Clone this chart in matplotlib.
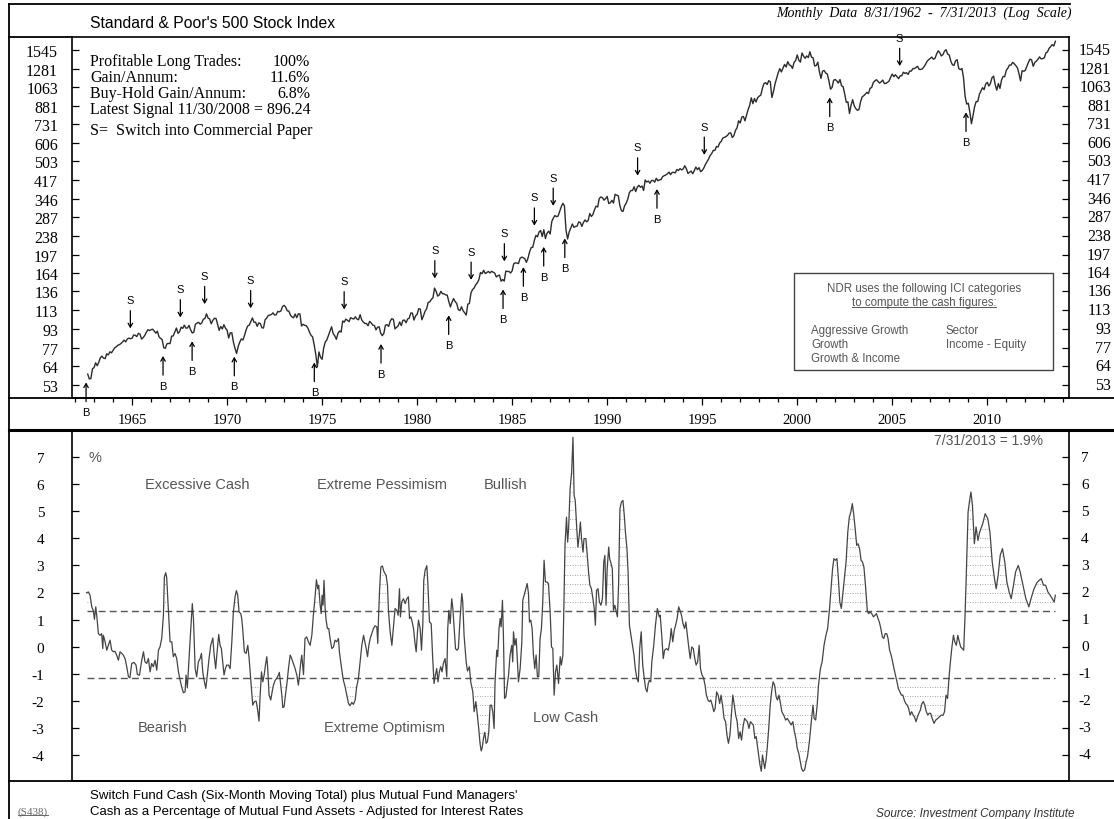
import numpy as np
import matplotlib
matplotlib.use("Agg")
import matplotlib.pyplot as plt
from matplotlib.lines import Line2D
from matplotlib.path import Path
from matplotlib.ticker import FixedLocator, MultipleLocator, NullLocator
from matplotlib.transforms import blended_transform_factory

# S&P 500 month-end closes, 8/1962 - 7/2013
sp500_close = [
    59.1, 56.3, 56.5, 62.3, 63.1,
    66.2, 64.3, 66.6, 69.8, 70.8, 69.4, 69.1, 72.5, 71.7, 74.0, 73.2, 75.0,
    77.0, 77.8, 79.0, 79.5, 80.4, 81.7, 83.2, 81.8, 84.2, 84.9, 84.4, 84.8,
    87.6, 87.4, 86.2, 89.1, 88.4, 84.1, 85.3, 87.2, 90.0, 92.4, 91.6, 92.4,
    92.9, 91.2, 89.2, 91.1, 86.1, 84.7, 83.6, 77.1, 76.6, 80.2, 80.5, 80.3,
    86.6, 86.8, 90.2, 94.0, 89.1, 90.6, 94.8, 93.6, 96.7, 93.9, 94.0, 96.5,
    92.2, 89.4, 90.2, 97.6, 98.7, 99.6, 97.7, 98.9, 102.7, 103.4, 108.4, 103.9,
    103.0, 98.1, 101.5, 103.7, 103.5, 97.7, 91.8, 95.5, 93.1, 97.2, 93.8, 92.1,
    85.0, 89.5, 89.6, 81.5, 76.6, 72.7, 78.1, 81.5, 84.2, 83.3, 87.2, 92.2,
    95.9, 96.8, 100.3, 104.0, 99.6, 99.7, 95.6, 99.0, 98.3, 94.2, 94.0, 102.1,
    103.9, 106.6, 107.2, 107.7, 109.5, 107.1, 107.4, 111.1, 110.6, 111.6, 116.7, 118.1,
    116.0, 111.7, 111.5, 107.0, 105.0, 104.3, 108.2, 104.3, 108.4, 108.3, 96.0, 97.6,
    96.6, 96.2, 94.0, 90.3, 87.3, 86.0, 79.3, 72.2, 63.5, 73.9, 70.0, 68.6,
    77.0, 81.6, 83.4, 87.3, 91.2, 95.2, 88.8, 86.9, 83.9, 89.0, 91.2, 90.2,
    100.9, 99.7, 102.8, 101.6, 100.2, 104.3, 103.4, 102.9, 105.2, 102.9, 102.1, 107.5,
    102.0, 99.8, 98.4, 98.4, 96.1, 100.5, 98.9, 96.8, 96.5, 92.3, 94.8, 95.1,
    89.3, 87.0, 89.2, 96.8, 97.2, 95.5, 100.7, 103.3, 102.5, 93.2, 94.7, 96.1,
    99.9, 96.3, 101.6, 101.8, 99.1, 102.9, 103.8, 109.3, 109.3, 101.8, 106.2, 107.9,
    114.2, 113.7, 102.1, 106.3, 111.2, 114.2, 121.7, 122.4, 125.5, 127.5, 140.5, 135.8,
    129.6, 131.3, 136.0, 132.8, 132.6, 131.2, 130.9, 122.8, 116.2, 121.9, 126.4, 122.6,
    120.4, 113.1, 112.0, 116.4, 111.9, 109.6, 107.1, 119.5, 120.4, 133.7, 138.5, 140.6,
    145.3, 148.1, 153.0, 164.4, 162.4, 168.1, 162.6, 164.4, 166.1, 163.6, 166.4, 164.9,
    163.4, 157.1, 159.2, 160.1, 150.6, 153.2, 150.7, 166.7, 166.1, 166.1, 163.6, 167.2,
    179.6, 181.2, 180.7, 179.8, 189.6, 191.9, 190.9, 188.6, 182.1, 189.8, 202.2, 211.3,
    211.8, 226.9, 238.9, 235.5, 247.4, 250.8, 236.1, 252.9, 231.3, 244.0, 249.2, 242.2,
    274.1, 284.2, 291.7, 288.4, 290.1, 304.0, 318.7, 329.8, 321.8, 251.8, 230.3, 247.1,
    257.1, 267.8, 258.9, 261.3, 262.2, 273.5, 272.0, 261.5, 271.9, 279.0, 273.7, 277.7,
    297.5, 288.9, 294.9, 309.6, 320.5, 318.0, 346.1, 351.5, 349.2, 340.4, 346.0, 353.4,
    329.1, 331.9, 339.9, 330.8, 361.2, 358.0, 356.2, 322.6, 306.1, 304.0, 322.2, 330.2,
    343.9, 367.1, 375.2, 375.4, 389.8, 371.2, 387.8, 395.4, 387.9, 392.5, 375.2, 417.1,
    408.8, 412.7, 403.7, 415.0, 415.4, 408.1, 424.2, 414.0, 417.8, 418.7, 431.4, 435.7,
    438.8, 443.4, 451.7, 440.2, 450.2, 450.5, 448.1, 463.6, 458.9, 467.8, 461.8, 466.5,
    481.6, 467.1, 445.8, 450.9, 456.5, 444.3, 458.3, 475.5, 462.7, 472.4, 453.7, 459.3,
    470.4, 487.4, 500.7, 514.7, 533.4, 544.8, 562.1, 561.9, 584.4, 581.5, 605.4, 615.9,
    636.0, 640.4, 645.5, 654.2, 669.1, 670.6, 640.0, 652.0, 687.3, 705.3, 757.0, 740.7,
    786.2, 790.8, 757.1, 801.3, 848.3, 885.1, 954.3, 899.5, 947.3, 914.6, 955.4, 970.4,
    980.3, 1049.3, 1101.8, 1111.8, 1090.8, 1133.8, 1120.7, 957.3, 1017.0, 1098.7, 1163.6, 1229.2,
    1279.6, 1238.3, 1286.4, 1335.2, 1301.8, 1372.7, 1328.7, 1320.4, 1282.7, 1362.9, 1388.9, 1469.3,
    1394.5, 1366.4, 1498.6, 1452.4, 1420.6, 1454.6, 1430.8, 1517.7, 1436.5, 1429.4, 1315.0, 1320.3,
    1366.0, 1239.9, 1160.3, 1249.5, 1255.8, 1224.4, 1211.2, 1133.6, 1040.9, 1059.8, 1139.5, 1148.1,
    1130.2, 1106.7, 1147.4, 1076.9, 1067.1, 989.8, 911.6, 916.1, 815.3, 885.8, 936.3, 879.8,
    855.7, 841.2, 848.2, 916.9, 963.6, 974.5, 990.3, 1008.0, 996.0, 1050.7, 1058.2, 1111.9,
    1131.1, 1144.9, 1126.2, 1107.3, 1120.7, 1140.8, 1101.7, 1104.2, 1114.6, 1130.2, 1173.8, 1211.9,
    1181.3, 1203.6, 1180.6, 1156.9, 1191.5, 1191.3, 1234.2, 1220.3, 1228.8, 1207.0, 1249.5, 1248.3,
    1280.1, 1280.7, 1294.8, 1310.6, 1270.1, 1270.2, 1276.7, 1303.8, 1335.9, 1377.9, 1400.6, 1418.3,
    1438.2, 1406.8, 1420.9, 1482.4, 1530.6, 1503.4, 1455.3, 1474.0, 1526.8, 1549.4, 1481.1, 1468.4,
    1378.6, 1330.6, 1322.7, 1385.6, 1400.4, 1280.0, 1267.4, 1282.8, 1166.4, 968.8, 896.2, 903.3,
    825.9, 735.1, 797.9, 872.8, 919.1, 919.3, 987.5, 1020.6, 1057.1, 1036.2, 1095.6, 1115.1,
    1073.9, 1104.5, 1169.4, 1186.7, 1089.4, 1030.7, 1101.6, 1049.3, 1141.2, 1183.3, 1180.6, 1257.6,
    1286.1, 1327.2, 1325.8, 1363.6, 1345.2, 1320.6, 1292.3, 1218.9, 1131.4, 1253.3, 1247.0, 1257.6,
    1312.4, 1365.7, 1408.5, 1397.9, 1310.3, 1362.2, 1379.3, 1406.6, 1440.7, 1412.2, 1416.2, 1426.2,
    1498.1, 1514.7, 1569.2, 1597.6, 1630.7, 1606.3, 1685.7,
]
sp_years = 1962 + 8 / 12 + np.arange(len(sp500_close)) / 12

# cash indicator (%)
cash_years = [
    1962.61, 1962.70, 1962.79, 1962.88, 1962.96, 1963.02, 1963.09, 1963.14, 1963.23, 1963.32,
    1963.40, 1963.46, 1963.49, 1963.58, 1963.67, 1963.75, 1963.84, 1963.93, 1964.02, 1964.10,
    1964.19, 1964.28, 1964.37, 1964.46, 1964.54, 1964.63, 1964.72, 1964.81, 1964.89, 1964.98,
    1965.10, 1965.21, 1965.28, 1965.39, 1965.51, 1965.60, 1965.68, 1965.77, 1965.86, 1965.95,
    1966.03, 1966.12, 1966.21, 1966.30, 1966.39, 1966.47, 1966.56, 1966.65, 1966.70, 1966.77,
    1966.82, 1966.88, 1966.93, 1967.00, 1967.09, 1967.17, 1967.26, 1967.35, 1967.44, 1967.53,
    1967.61, 1967.70, 1967.79, 1967.84, 1967.91, 1967.96, 1968.05, 1968.14, 1968.17, 1968.23,
    1968.32, 1968.40, 1968.49, 1968.58, 1968.65, 1968.72, 1968.79, 1968.88, 1968.96, 1969.05,
    1969.14, 1969.25, 1969.32, 1969.40, 1969.46, 1969.56, 1969.63, 1969.70, 1969.77, 1969.84,
    1969.91, 1969.98, 1970.07, 1970.16, 1970.25, 1970.33, 1970.42, 1970.49, 1970.56, 1970.63,
    1970.72, 1970.77, 1970.82, 1970.91, 1971.00, 1971.09, 1971.16, 1971.24, 1971.30, 1971.35,
    1971.44, 1971.53, 1971.61, 1971.68, 1971.74, 1971.81, 1971.88, 1971.95, 1972.02, 1972.09,
    1972.14, 1972.21, 1972.30, 1972.37, 1972.44, 1972.53, 1972.61, 1972.70, 1972.75, 1972.82,
    1972.88, 1972.93, 1973.00, 1973.07, 1973.14, 1973.23, 1973.32, 1973.40, 1973.49, 1973.58,
    1973.67, 1973.75, 1973.81, 1973.88, 1973.93, 1974.02, 1974.10, 1974.19, 1974.28, 1974.37,
    1974.46, 1974.54, 1974.63, 1974.70, 1974.77, 1974.82, 1974.89, 1974.95, 1975.00, 1975.05,
    1975.10, 1975.16, 1975.21, 1975.28, 1975.35, 1975.42, 1975.51, 1975.60, 1975.68, 1975.77,
    1975.86, 1975.91, 1975.98, 1976.05, 1976.12, 1976.21, 1976.30, 1976.39, 1976.47, 1976.56,
    1976.65, 1976.74, 1976.82, 1976.91, 1977.00, 1977.09, 1977.18, 1977.25, 1977.32, 1977.39,
    1977.46, 1977.53, 1977.61, 1977.70, 1977.79, 1977.88, 1977.93, 1977.96, 1978.02, 1978.09,
    1978.17, 1978.26, 1978.37, 1978.44, 1978.49, 1978.58, 1978.67, 1978.75, 1978.84, 1978.93,
    1979.00, 1979.07, 1979.12, 1979.19, 1979.28, 1979.37, 1979.46, 1979.54, 1979.60, 1979.67,
    1979.74, 1979.81, 1979.88, 1979.95, 1980.02, 1980.07, 1980.16, 1980.23, 1980.30, 1980.35,
    1980.42, 1980.51, 1980.56, 1980.65, 1980.74, 1980.82, 1980.89, 1980.96, 1981.03, 1981.10,
    1981.17, 1981.24, 1981.31, 1981.38, 1981.47, 1981.56, 1981.61, 1981.67, 1981.74, 1981.82,
    1981.88, 1981.95, 1982.02, 1982.09, 1982.17, 1982.26, 1982.35, 1982.40, 1982.47, 1982.58,
    1982.65, 1982.75, 1982.82, 1982.93, 1983.00, 1983.09, 1983.17, 1983.24, 1983.31, 1983.37,
    1983.42, 1983.49, 1983.56, 1983.63, 1983.70, 1983.77, 1983.84, 1983.91, 1983.98, 1984.05,
    1984.10, 1984.19, 1984.24, 1984.31, 1984.37, 1984.42, 1984.49, 1984.54, 1984.60, 1984.67,
    1984.72, 1984.81, 1984.89, 1984.98, 1985.03, 1985.07, 1985.14, 1985.21, 1985.26, 1985.33,
    1985.42, 1985.51, 1985.56, 1985.63, 1985.72, 1985.79, 1985.86, 1985.91, 1985.98, 1986.05,
    1986.12, 1986.19, 1986.26, 1986.33, 1986.40, 1986.47, 1986.54, 1986.61, 1986.68, 1986.75,
    1986.82, 1986.91, 1987.00, 1987.07, 1987.14, 1987.21, 1987.28, 1987.35, 1987.44, 1987.53,
    1987.59, 1987.67, 1987.72, 1987.78, 1987.86, 1987.92, 1987.97, 1988.05, 1988.13, 1988.20,
    1988.26, 1988.32, 1988.40, 1988.46, 1988.53, 1988.59, 1988.65, 1988.73, 1988.78, 1988.88,
    1988.94, 1989.02, 1989.09, 1989.17, 1989.25, 1989.32, 1989.38, 1989.44, 1989.52, 1989.59,
    1989.67, 1989.75, 1989.82, 1989.88, 1989.94, 1990.00, 1990.08, 1990.13, 1990.23, 1990.27,
    1990.33, 1990.40, 1990.48, 1990.54, 1990.60, 1990.67, 1990.75, 1990.83, 1990.90, 1990.96,
    1991.04, 1991.10, 1991.17, 1991.25, 1991.33, 1991.41, 1991.48, 1991.56, 1991.64, 1991.71,
    1991.79, 1991.87, 1991.95, 1992.02, 1992.10, 1992.16, 1992.22, 1992.29, 1992.35, 1992.45,
    1992.54, 1992.64, 1992.74, 1992.79, 1992.87, 1992.95, 1993.02, 1993.12, 1993.22, 1993.31,
    1993.37, 1993.45, 1993.53, 1993.60, 1993.68, 1993.76, 1993.83, 1993.91, 1993.99, 1994.07,
    1994.14, 1994.22, 1994.30, 1994.37, 1994.45, 1994.53, 1994.61, 1994.68, 1994.76, 1994.84,
    1994.91, 1994.99, 1995.07, 1995.15, 1995.22, 1995.30, 1995.38, 1995.45, 1995.53, 1995.61,
    1995.68, 1995.76, 1995.84, 1995.92, 1995.99, 1996.07, 1996.15, 1996.23, 1996.30, 1996.38,
    1996.46, 1996.53, 1996.61, 1996.69, 1996.76, 1996.84, 1996.92, 1996.99, 1997.07, 1997.15,
    1997.23, 1997.30, 1997.38, 1997.46, 1997.54, 1997.61, 1997.69, 1997.77, 1997.84, 1997.92,
    1997.98, 1998.04, 1998.11, 1998.17, 1998.23, 1998.29, 1998.37, 1998.42, 1998.50, 1998.58,
    1998.65, 1998.73, 1998.81, 1998.89, 1998.96, 1999.04, 1999.12, 1999.19, 1999.29, 1999.39,
    1999.48, 1999.58, 1999.68, 1999.77, 1999.85, 1999.93, 2000.00, 2000.08, 2000.16, 2000.23,
    2000.31, 2000.39, 2000.47, 2000.54, 2000.64, 2000.74, 2000.83, 2000.89, 2000.97, 2001.05,
    2001.12, 2001.22, 2001.31, 2001.41, 2001.51, 2001.60, 2001.70, 2001.78, 2001.86, 2001.93,
    2002.01, 2002.09, 2002.16, 2002.24, 2002.32, 2002.39, 2002.47, 2002.57, 2002.66, 2002.74,
    2002.82, 2002.90, 2002.97, 2003.05, 2003.13, 2003.20, 2003.28, 2003.36, 2003.43, 2003.51,
    2003.59, 2003.69, 2003.76, 2003.84, 2003.92, 2004.01, 2004.09, 2004.17, 2004.25, 2004.32,
    2004.40, 2004.48, 2004.55, 2004.63, 2004.71, 2004.78, 2004.86, 2004.94, 2005.02, 2005.09,
    2005.17, 2005.25, 2005.32, 2005.40, 2005.48, 2005.56, 2005.63, 2005.71, 2005.79, 2005.86,
    2005.94, 2006.02, 2006.10, 2006.17, 2006.25, 2006.33, 2006.40, 2006.48, 2006.56, 2006.64,
    2006.71, 2006.79, 2006.87, 2006.94, 2007.02, 2007.10, 2007.20, 2007.29, 2007.39, 2007.48,
    2007.58, 2007.68, 2007.75, 2007.83, 2007.91, 2007.99, 2008.06, 2008.14, 2008.22, 2008.29,
    2008.37, 2008.45, 2008.53, 2008.60, 2008.68, 2008.76, 2008.83, 2008.89, 2008.99, 2009.07,
    2009.14, 2009.22, 2009.32, 2009.41, 2009.51, 2009.60, 2009.76, 2009.89, 2010.03, 2010.14,
    2010.26, 2010.38, 2010.47, 2010.57, 2010.68, 2010.80, 2010.92, 2011.03, 2011.15, 2011.26,
    2011.38, 2011.49, 2011.63, 2011.73, 2011.88, 2012.03, 2012.19, 2012.30, 2012.46, 2012.61,
    2012.73, 2012.84, 2012.96, 2013.07, 2013.19, 2013.31, 2013.42, 2013.52, 2013.58,
]
cash_pct = [
    1.99, 2.02, 1.90, 1.47, 1.34, 1.01, 1.47, 1.16, 0.48, 0.42,
    0.48, -0.07, 0.42, 0.18, -0.13, 0.05, 0.24, -0.13, -0.19, -0.17,
    -0.31, -0.50, -0.19, -0.25, -0.31, -0.44, -0.74, -1.11, -1.15, -0.62,
    -0.58, -0.68, -1.03, -1.05, -0.50, -0.19, -0.56, -0.62, -0.44, -0.93,
    -0.62, -0.74, -0.50, -0.87, -0.13, -0.01, 0.30, 1.16, 2.57, 2.73,
    2.57, 1.77, 1.16, 0.18, 0.18, -0.37, -0.25, -0.44, -0.93, -1.24,
    -1.48, -1.70, -1.67, -1.05, -1.52, -0.93, 0.18, 1.28, 1.59, 1.04,
    -0.81, -1.11, -0.56, -0.44, -0.25, -0.93, -1.24, -1.54, -1.05, -0.44,
    0.05, 0.32, -0.31, -0.81, -0.31, 0.45, 0.05, -0.07, -0.56, -1.05,
    -0.81, -0.68, -0.68, -0.81, 0.18, 1.28, 1.84, 2.07, 1.90, 1.28,
    1.22, 1.04, 0.67, -0.19, -0.25, 0.05, -0.44, -1.17, -1.67, -2.16,
    -2.03, -2.01, -2.34, -2.75, -1.79, -0.93, -1.30, -1.05, -0.68, -0.37,
    -0.81, -1.79, -1.97, -1.67, -1.42, -1.24, -1.17, -1.05, -0.95, -1.42,
    -1.79, -2.25, -2.22, -1.79, -1.42, -0.81, -0.31, -0.44, -0.62, -0.81,
    -1.05, -1.42, -1.05, -0.56, -0.31, -1.03, 0.30, 0.36, 0.18, 0.05,
    0.42, 1.16, 1.84, 2.47, 2.14, 2.27, 1.59, 1.22, 1.90, 1.53,
    2.45, 1.41, 0.98, 0.67, 0.67, 0.30, -0.07, -0.01, 0.24, 0.18,
    0.30, -0.19, -0.56, -0.93, -1.24, -1.48, -1.79, -2.10, -2.18, -2.06,
    -2.13, -1.97, -1.48, -1.17, -0.56, 0.05, 0.42, 0.18, -0.07, -0.37,
    0.05, 0.30, 0.48, 0.67, 0.77, 0.73, 0.12, 0.91, 2.02, 2.94,
    2.98, 2.76, 2.63, 2.27, 1.34, 0.55, 0.05, 0.67, 1.41, 1.34,
    1.16, 2.14, 1.10, 1.65, 1.77, 1.59, 1.77, 1.84, 1.04, 1.10,
    0.91, 0.67, 0.18, -0.19, 0.55, 0.98, 0.67, -0.13, 0.85, 2.45,
    2.82, 2.99, 2.39, 0.91, 0.85, -0.44, -1.36, -1.05, -0.81, -1.30,
    -0.93, -0.74, -0.93, -0.62, -0.44, -1.11, 0.67, 1.34, 0.85, 1.77,
    1.41, 0.67, -0.07, -0.13, -0.07, 1.04, 1.96, 1.65, 0.42, -0.56,
    -0.90, -0.74, -1.30, -1.67, -2.40, -2.03, -2.53, -3.02, -3.57, -3.85,
    -3.75, -3.39, -3.16, -3.57, -3.51, -3.14, -2.16, -2.16, -2.40, -3.02,
    -1.30, -0.13, -0.37, 0.67, 1.04, 0.73, 1.71, 0.42, -1.91, -1.85,
    -1.54, -1.05, -0.31, 0.05, -0.56, 0.55, 0.05, 0.30, -0.31, -1.30,
    -0.81, 0.18, 1.71, 1.90, 2.14, 2.33, 1.96, 0.91, 0.98, 0.67,
    -0.31, -0.81, -0.31, -1.11, -1.11, 0.30, 0.67, 1.65, 3.19, 2.39,
    2.39, 2.33, 1.28, -0.01, -0.07, -1.79, -0.93, -0.68, -1.36, -0.37,
    -0.68, -0.31, 1.41, 3.74, 4.78, 3.86, 4.35, 5.83, 6.44, 7.73,
    5.58, 5.40, 4.35, 3.68, 4.11, 4.60, 3.99, 3.49, 3.99, 3.99,
    3.49, 2.76, 2.27, 2.14, 1.77, 1.41, 0.79, 2.08, 2.14, 1.65,
    1.53, 1.77, 3.13, 3.37, 1.53, 2.88, 3.68, 3.25, 3.00, 2.88,
    1.34, 1.53, 1.28, 1.10, 2.27, 5.09, 5.34, 5.40, 4.85, 4.23,
    3.62, 2.76, 0.79, 0.42, 0.05, -0.31, -0.81, -1.17, -1.30, -0.07,
    0.55, -0.68, -1.17, -1.54, -1.67, -1.36, -1.24, -1.30, -0.56, 0.05,
    0.79, 1.41, 1.10, 1.16, 0.42, -0.44, -0.13, -0.07, -0.13, 0.24,
    0.67, 0.18, 0.61, 0.79, 1.04, 1.47, 1.34, 1.16, 0.85, 0.67,
    0.91, 0.42, -0.07, -0.44, -0.01, -0.07, -0.44, -0.68, -0.56, 0.05,
    -0.81, -1.05, -1.15, -1.42, -1.79, -1.97, -2.03, -1.97, -2.16, -2.40,
    -2.28, -1.67, -1.79, -2.10, -1.79, -2.16, -2.65, -2.77, -3.26, -3.57,
    -3.26, -2.59, -1.79, -2.16, -2.53, -2.77, -3.39, -3.14, -3.45, -2.96,
    -2.65, -2.71, -2.77, -3.02, -2.77, -2.83, -2.89, -3.39, -3.32, -3.75,
    -4.06, -4.37, -4.60, -4.00, -4.25, -4.50, -4.12, -3.75, -3.02, -2.16,
    -1.67, -1.30, -1.42, -1.85, -1.97, -1.79, -2.10, -2.40, -2.53, -2.71,
    -2.65, -2.77, -2.89, -2.77, -3.14, -3.39, -3.75, -3.94, -4.25, -4.50,
    -4.60, -4.55, -4.25, -4.06, -3.51, -2.77, -2.16, -2.65, -2.71, -2.16,
    -1.42, -0.81, -0.56, 0.05, 0.42, 0.67, 1.41, 2.14, 2.88, 3.25,
    3.19, 3.25, 2.57, 1.65, 1.41, 1.90, 2.45, 3.13, 4.23, 4.78,
    4.97, 5.28, 4.91, 4.35, 3.74, 3.80, 3.62, 3.19, 3.13, 2.94,
    2.27, 1.31, 1.22, 1.28, 1.22, 1.10, 1.16, 1.22, 1.04, 0.91,
    0.67, 0.36, 0.30, 0.48, 0.48, 0.30, -0.13, -0.31, -0.56, -0.81,
    -1.05, -1.30, -1.54, -1.67, -1.79, -1.79, -1.97, -2.10, -2.16, -2.28,
    -2.53, -2.40, -2.53, -2.59, -2.77, -2.59, -2.46, -2.34, -2.10, -2.03,
    -2.16, -2.40, -2.53, -2.46, -2.46, -2.65, -2.83, -2.71, -2.65, -2.59,
    -2.53, -2.53, -2.40, -1.79, -1.91, -1.11, -0.56, -0.01, 0.42, 0.18,
    0.05, 0.42, 0.18, -0.01, -0.07, -0.13, 1.16, 2.51, 4.97, 5.40,
    5.71, 5.21, 3.80, 4.42, 3.92, 4.23, 4.54, 4.91, 4.72, 4.23,
    3.13, 2.51, 2.14, 2.63, 3.37, 3.62, 3.13, 2.39, 2.02, 1.77,
    2.27, 2.76, 3.00, 2.76, 2.27, 1.77, 1.47, 1.77, 2.14, 2.36,
    2.45, 2.51, 2.27, 2.27, 2.02, 1.90, 1.77, 1.65, 1.90,
]

# switch signals (S = into commercial paper, B = back into stocks)
sell_dates = [1964.91, 1967.54, 1968.82, 1971.24, 1976.16, 1980.93, 1982.84,
              1984.59, 1986.17, 1987.16, 1991.60, 1995.11, 2005.39]
buy_dates = [1962.58, 1966.63, 1968.16, 1970.38, 1974.59, 1978.10, 1981.66,
             1984.52, 1985.59, 1986.66, 1987.77, 1992.62, 2001.71, 2008.88]

price_ticks = [53, 64, 77, 93, 113, 136, 164, 197, 238, 287, 346, 417, 503,
               606, 731, 881, 1063, 1281, 1545]
cash_ticks = [7, 6, 5, 4, 3, 2, 1, 0, -1, -2, -3, -4]
year_ticks = [1965, 1970, 1975, 1980, 1985, 1990, 1995, 2000, 2005, 2010]
upper_band = 1.3
lower_band = -1.15

SERIF = "Liberation Serif"
SANS = "Liberation Sans"
W, H = 1114, 820


def fx(px):
    return px / W


def fy(py):
    return 1 - py / H


fig = plt.figure(figsize=(W / 100, H / 100), dpi=100)
fig.patch.set_facecolor("white")

ax1 = fig.add_axes([fx(72), fy(398.5), fx(1069) - fx(72), fy(37.5) - fy(398.5)])
ax2 = fig.add_axes([fx(72), fy(782), fx(1069) - fx(72), fy(431) - fy(782)])

# ---- top panel: S&P 500
ax1.plot(sp_years, sp500_close, color="#2b2b2b", lw=1.0)
ax1.set_yscale("log")
ax1.set_ylim(46.7, 1769)
ax1.set_xlim(1961.84, 2014.3)
ax1.yaxis.set_major_locator(FixedLocator(price_ticks))
ax1.yaxis.set_minor_locator(NullLocator())
ax1.set_yticklabels([str(v) for v in price_ticks])
ax1.tick_params(axis="y", which="major", direction="in", length=5, width=0.9,
                left=True, right=True, labelleft=True, labelright=False,
                pad=10, labelsize=11.5)
for lbl in ax1.get_yticklabels():
    lbl.set_fontfamily(SERIF)
ytrans = blended_transform_factory(ax1.transAxes, ax1.transData)
for v in price_ticks:
    ax1.text(1 + 42 / 997, v, str(v), transform=ytrans, ha="right", va="center",
             fontsize=11.5, family=SERIF, clip_on=False)

ax1.xaxis.set_major_locator(FixedLocator(year_ticks))
ax1.xaxis.set_minor_locator(MultipleLocator(1))
ax1.tick_params(axis="x", which="major", direction="out", length=5, width=0.9,
                pad=6, labelsize=10.5)
ax1.tick_params(axis="x", which="minor", direction="out", length=3, width=0.9)
for lbl in ax1.get_xticklabels():
    lbl.set_fontfamily(SERIF)
for s in ax1.spines.values():
    s.set_linewidth(1.2)

sp_arr = np.array(sp500_close)
for d in sell_dates:
    near = sp_arr[np.abs(sp_years - d) <= 0.1]
    p = near.max() if len(near) else np.interp(d, sp_years, sp_arr)
    ax1.annotate("S", xy=(d, p), xytext=(0, 38), textcoords="offset pixels",
                 ha="center", va="center", fontsize=8, family=SANS,
                 annotation_clip=False,
                 arrowprops=dict(arrowstyle="->,head_length=0.35,head_width=0.2",
                                 lw=0.9, color="black", shrinkA=2, shrinkB=7))
for d in buy_dates:
    near = sp_arr[np.abs(sp_years - d) <= 0.1]
    p = near.min() if len(near) else np.interp(d, sp_years, sp_arr)
    ax1.annotate("B", xy=(d, p), xytext=(0, -38), textcoords="offset pixels",
                 ha="center", va="center", fontsize=8, family=SANS,
                 annotation_clip=False,
                 arrowprops=dict(arrowstyle="->,head_length=0.35,head_width=0.2",
                                 lw=0.9, color="black", shrinkA=2, shrinkB=6))

# stats block
stats = [("Profitable Long Trades:", "100%", 62),
         ("Gain/Annum:", "11.6%", 78),
         ("Buy-Hold Gain/Annum:", "6.8%", 94)]
for lab, val, yy in stats:
    fig.text(fx(90), fy(yy), lab, ha="left", va="center", fontsize=11.5, family=SERIF)
    fig.text(fx(310), fy(yy), val, ha="right", va="center", fontsize=11.5, family=SERIF)
fig.text(fx(90), fy(110), "Latest Signal 11/30/2008 = 896.24", ha="left", va="center",
         fontsize=11.5, family=SERIF)
fig.text(fx(90), fy(131), "S=  Switch into Commercial Paper", ha="left", va="center",
         fontsize=11.5, family=SERIF)

# legend box
ax1.add_artist(plt.Rectangle((fx(794), fy(371)), fx(1053) - fx(794), fy(274) - fy(371),
                             transform=fig.transFigure, fill=False, ec="#444", lw=1.0,
                             clip_on=False))
gray = "#555555"
fig.text(fx(924), fy(289), "NDR uses the following ICI categories", ha="center",
         va="center", fontsize=8.3, family=SANS, color=gray)
t_u = fig.text(fx(924), fy(303), "to compute the cash figures:", ha="center",
               va="center", fontsize=8.3, family=SANS, color=gray)
for i, name in enumerate(["Aggressive Growth", "Growth", "Growth & Income"]):
    fig.text(fx(811), fy(331 + 14 * i), name, ha="left", va="center", fontsize=8.3,
             family=SANS, color=gray)
for i, name in enumerate(["Sector", "Income - Equity"]):
    fig.text(fx(946), fy(331 + 14 * i), name, ha="left", va="center", fontsize=8.3,
             family=SANS, color=gray)

# ---- bottom panel: cash indicator
cy = np.array(cash_years)
cv = np.array(cash_pct)
ax2.plot(cy, cv, color="#444444", lw=0.9, zorder=3)
ax2.hlines([upper_band, lower_band], cy[0], cy[-1], colors="#555555", lw=1.0,
           linestyles=(0, (5, 3)), zorder=2)
for above, base in [(True, upper_band), (False, lower_band)]:
    mask = cv > base if above else cv < base
    fb = ax2.fill_between(cy, cv, base, where=mask, interpolate=True,
                          facecolor="none", edgecolor="none")
    clip = Path.make_compound_path(*fb.get_paths())
    step = 0.34 if above else -0.34
    for lev in base + step * np.arange(1, 20):
        ln = ax2.axhline(lev, color="#8a8a8a", lw=0.6, ls=(0, (1, 2)), zorder=1)
        ln.set_clip_path(clip, ax2.transData)

ax2.set_xlim(1961.84, 2014.3)
ax2.set_ylim(-4.96, 8.0)
ax2.set_yticks(cash_ticks)
ax2.set_yticklabels([str(v) for v in cash_ticks])
ax2.tick_params(axis="y", direction="in", length=5, width=0.9, left=True, right=True,
                labelleft=True, labelright=False, pad=20, labelsize=11)
for lbl in ax2.get_yticklabels():
    lbl.set_fontfamily(SERIF)
ytrans2 = blended_transform_factory(ax2.transAxes, ax2.transData)
for v in cash_ticks:
    ax2.text(1 + 16 / 997, v, str(v), transform=ytrans2, ha="center", va="center",
             fontsize=11, family=SERIF, clip_on=False)
ax2.tick_params(axis="x", bottom=False, labelbottom=False)
for s in ax2.spines.values():
    s.set_linewidth(1.2)

notes = [("%", 95, 458), ("Excessive Cash", 197, 485), ("Extreme Pessimism", 382, 485),
         ("Bullish", 506, 485), ("Bearish", 163, 728), ("Extreme Optimism", 385, 728),
         ("Low Cash", 566, 718)]
for txt, xx, yy in notes:
    fig.text(fx(xx), fy(yy), txt, ha="center", va="center", fontsize=10.5, family=SANS,
             color=gray)
fig.text(fx(1043), fy(441), "7/31/2013 = 1.9%", ha="right", va="center", fontsize=10,
         family=SANS, color=gray)

# ---- titles and footer
fig.text(fx(90), fy(23), "Standard & Poor's 500 Stock Index", ha="left", va="center",
         fontsize=11.3, family=SANS)
fig.text(fx(1072), fy(13), "Monthly  Data  8/31/1962  -  7/31/2013  (Log  Scale)",
         ha="right", va="center", fontsize=10, family=SERIF, style="italic")
fig.text(fx(90), fy(796), "Switch Fund Cash (Six-Month Moving Total) plus Mutual Fund Managers'",
         ha="left", va="center", fontsize=9.5, family=SANS)
fig.text(fx(90), fy(812), "Cash as a Percentage of Mutual Fund Assets - Adjusted for Interest Rates",
         ha="left", va="center", fontsize=9.5, family=SANS)
t_s = fig.text(fx(18), fy(812), "(S438)", ha="left", va="center", fontsize=8,
               family=SERIF, color="#666666")
fig.text(fx(1075), fy(814), "Source: Investment Company Institute", ha="right",
         va="center", fontsize=8.5, family=SANS, style="italic", color="#333333")

# frame lines
def hline(x0, x1, y, lw=1.3):
    fig.add_artist(Line2D([fx(x0), fx(x1)], [fy(y), fy(y)], transform=fig.transFigure,
                          color="black", lw=lw))


def vline(x, y0, y1, lw=1.3):
    fig.add_artist(Line2D([fx(x), fx(x)], [fy(y0), fy(y1)], transform=fig.transFigure,
                          color="black", lw=lw))


hline(9, 1070, 5)
vline(9, 5, 820)
hline(9, 72, 37.5)
hline(9, 1114, 398.5)
hline(9, 1114, 431, lw=2.2)
hline(9, 1114, 782)

# underlines
fig.canvas.draw()
for t, c in [(t_u, gray), (t_s, "#666666")]:
    bb = t.get_window_extent()
    fig.add_artist(Line2D([bb.x0 / W, bb.x1 / W], [(bb.y0 + 1) / H, (bb.y0 + 1) / H],
                          transform=fig.transFigure, color=c, lw=0.7))

fig.savefig("out.png", dpi=100)
